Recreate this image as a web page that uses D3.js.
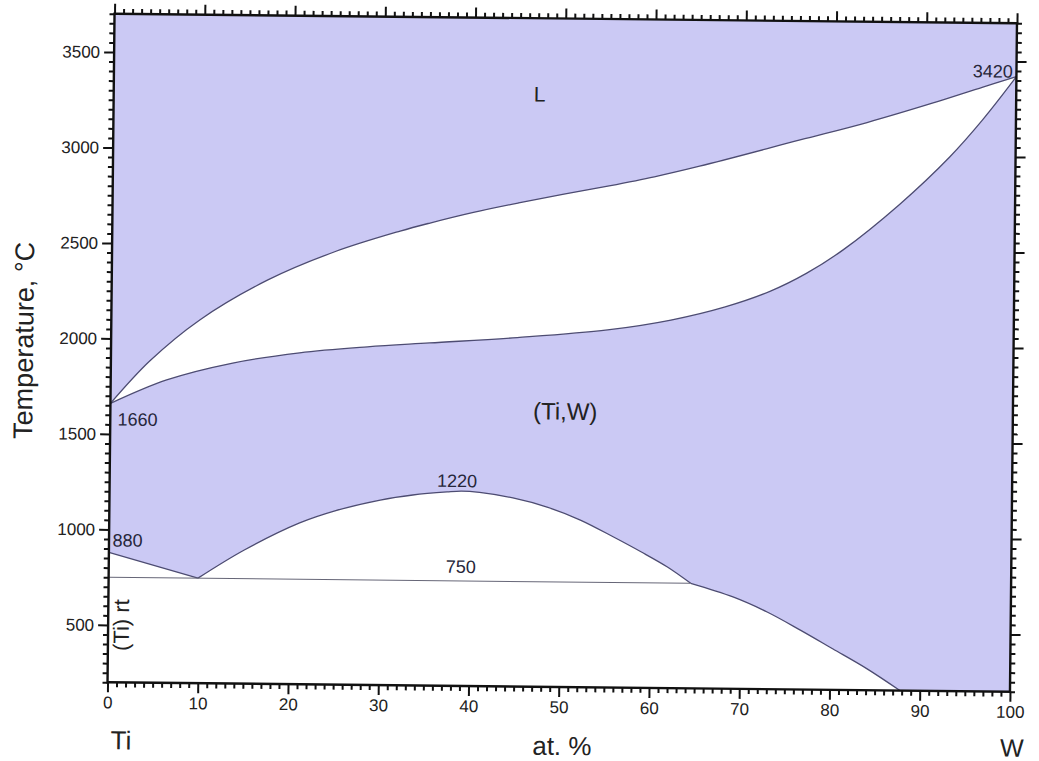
<!DOCTYPE html>
<html>
<head>
<meta charset="utf-8">
<script src="https://cdn.jsdelivr.net/npm/d3@7"></script>
<style>
  html, body { margin: 0; padding: 0; background: #fff; }
  svg { display: block; font-family: "Liberation Sans", Arial, sans-serif; }
</style>
</head>
<body>
<svg id="chart" width="1039" height="761"></svg>
<script>
// Ti–W phase diagram: composition in at.% W, temperature in °C

// Liquidus (upper boundary of L + (Ti,W))
const liquidusX = [0, 4.3, 9.8, 17.3, 24.6, 31.9, 35.2, 40, 45, 50, 55, 60, 65, 76.1, 83.5, 90.8, 96.3, 100];
const liquidusT = [1660, 1884, 2102, 2315, 2465, 2578, 2622, 2680, 2732, 2780, 2826, 2876, 2934, 3077, 3172, 3278, 3364, 3420];

// Solidus (lower boundary of L + (Ti,W))
const solidusX = [0, 6.2, 13.5, 20.9, 28.4, 35.3, 45, 55, 62, 68, 73, 77, 81, 87.2, 92.7, 96.3, 100];
const solidusT = [1660, 1786, 1878, 1935, 1970, 1994, 2027, 2072, 2127, 2199, 2284, 2380, 2504, 2745, 2996, 3192, 3420];

// (Ti,W) / (αTi) transus from pure Ti down to the eutectoid point
const transusX = [0, 9.9];
const transusT = [880, 750];

// Miscibility gap in (Ti,W)
const gapX = [9.9, 15, 21.1, 25, 30, 33.6, 37.4, 39, 41, 44.7, 48.5, 52.2, 55.9, 59, 61.9, 64.5];
const gapT = [750, 900, 1045, 1110, 1169, 1197, 1215, 1220, 1214, 1187, 1141, 1075, 988, 911, 834, 750];

// Solvus below the monotectoid
const solvusX = [64.5, 69.2, 73, 76.7, 80.3, 84.1, 87.8];
const solvusT = [750, 681, 604, 511, 415, 313, 200];

// Monotectoid horizontal
const monoX = [0, 64.5];
const monoT = [750, 750];

// Axis ticks
const xMajor = [0, 10, 20, 30, 40, 50, 60, 70, 80, 90, 100];
const yMajor = [500, 1000, 1500, 2000, 2500, 3000, 3500];

// Point annotations
const notes = [
  { text: "1660", x: 0.8, t: 1660, anchor: "start", dy: 22 },
  { text: "880",  x: 0.4, t: 880,  anchor: "start", dy: -6 },
  { text: "1220", x: 38.5, t: 1220, anchor: "middle", dy: -4 },
  { text: "750",  x: 39,  t: 750,  anchor: "middle", dy: -8 },
  { text: "3420", x: 99.6, t: 3420, anchor: "end", dy: 1 }
];

const m = { left: 111, right: 1013.5, top: 18.5, bottom: 687 };
const x = d3.scaleLinear().domain([0, 100]).range([m.left, m.right]);
const y = d3.scaleLinear().domain([200, 3700]).range([m.bottom, m.top]);

const FILL = "#cbc9f4";
const LINE = "#4d4c72";

const svg = d3.select("#chart");
const g = svg.append("g").attr("transform", "rotate(0.6,562,353)");

svg.append("defs").append("clipPath").attr("id", "plotClip")
  .append("rect")
  .attr("x", m.left).attr("y", m.top)
  .attr("width", m.right - m.left).attr("height", m.bottom - m.top);

const plot = g.append("g").attr("clip-path", "url(#plotClip)");

const pts = (xs, ts) => xs.map((v, i) => [x(v), y(ts[i])]);
const curve = d3.curveCatmullRom.alpha(0.5);
const smooth = d3.line().curve(curve);
const straight = d3.line();
const areaDown = d3.area().curve(curve)
  .x(d => d[0]).y1(d => d[1]).y0(m.bottom);

// single-phase background
plot.append("rect")
  .attr("x", m.left).attr("y", m.top)
  .attr("width", m.right - m.left).attr("height", m.bottom - m.top)
  .attr("fill", FILL);

// L + (Ti,W) two-phase field: white below liquidus, then fill back below solidus
plot.append("path").attr("d", areaDown(pts(liquidusX, liquidusT))).attr("fill", "#fff");
plot.append("path").attr("d", areaDown(pts(solidusX, solidusT))).attr("fill", FILL);

// low-temperature two-phase fields
const lowerEdge =
  straight(pts(transusX, transusT)) +
  smooth(pts(gapX, gapT)).replace(/^M/, "L") +
  smooth(pts(solvusX, solvusT)).replace(/^M/, "L") +
  `L${x(solvusX[solvusX.length - 1])},${m.bottom}L${x(0)},${m.bottom}Z`;
plot.append("path").attr("d", lowerEdge).attr("fill", "#fff");

// phase boundaries
const lines = [
  [liquidusX, liquidusT, smooth],
  [solidusX, solidusT, smooth],
  [transusX, transusT, straight],
  [gapX, gapT, smooth],
  [solvusX, solvusT, smooth]
];
lines.forEach(([xs, ts, gen]) => {
  plot.append("path").attr("d", gen(pts(xs, ts)))
    .attr("fill", "none").attr("stroke", LINE).attr("stroke-width", 1.3);
});
plot.append("path").attr("d", straight(pts(monoX, monoT)))
  .attr("fill", "none").attr("stroke", "#666677").attr("stroke-width", 1);

// axes
function styleAxis(sel) {
  sel.select(".domain").remove();
  sel.selectAll(".tick line").attr("stroke", "#111").attr("stroke-width", 2);
  sel.selectAll(".tick text").attr("fill", "#222").style("font-size", "17px")
    .style("font-family", '"Liberation Sans", Arial, sans-serif');
}
const xMinor = d3.range(0, 101, 1).filter(v => v % 10);
const yMinor = d3.range(200, 3701, 50).filter(v => v % 500);

g.append("g").attr("transform", `translate(0,${m.bottom})`)
  .call(d3.axisBottom(x).tickValues(xMajor).tickSize(10).tickPadding(4).tickFormat(d3.format("d"))).call(styleAxis);
g.append("g").attr("transform", `translate(0,${m.bottom})`)
  .call(d3.axisBottom(x).tickValues(xMinor).tickSize(5).tickFormat("")).call(styleAxis);
g.append("g").attr("transform", `translate(0,${m.top})`)
  .call(d3.axisTop(x).tickValues(xMajor).tickSize(10).tickFormat("")).call(styleAxis);
g.append("g").attr("transform", `translate(0,${m.top})`)
  .call(d3.axisTop(x).tickValues(xMinor).tickSize(5).tickFormat("")).call(styleAxis);
g.append("g").attr("transform", `translate(${m.left},0)`)
  .call(d3.axisLeft(y).tickValues(yMajor).tickSize(10).tickPadding(4).tickFormat(d3.format("d"))).call(styleAxis);
g.append("g").attr("transform", `translate(${m.left},0)`)
  .call(d3.axisLeft(y).tickValues(yMinor).tickSize(5).tickFormat("")).call(styleAxis);
g.append("g").attr("transform", `translate(${m.right},0)`)
  .call(d3.axisRight(y).tickValues(yMajor).tickSize(10).tickFormat("")).call(styleAxis);
g.append("g").attr("transform", `translate(${m.right},0)`)
  .call(d3.axisRight(y).tickValues(yMinor).tickSize(5).tickFormat("")).call(styleAxis);

g.append("rect")
  .attr("x", m.left).attr("y", m.top)
  .attr("width", m.right - m.left).attr("height", m.bottom - m.top)
  .attr("fill", "none").attr("stroke", "#111").attr("stroke-width", 2.4);

// annotations inside the diagram
notes.forEach(n => {
  g.append("text").attr("x", x(n.x)).attr("y", y(n.t) + n.dy)
    .attr("text-anchor", n.anchor).attr("fill", "#26263a")
    .style("font-size", "18px").text(n.text);
});

g.append("text").attr("x", x(47.2)).attr("y", y(3300) + 7)
  .attr("text-anchor", "middle").attr("fill", "#222").style("font-size", "21px").text("L");
g.append("text").attr("x", x(50.4)).attr("y", y(1600))
  .attr("text-anchor", "middle").attr("fill", "#222").style("font-size", "24px").text("(Ti,W)");
g.append("text").attr("transform", `translate(${x(2.3)},${y(500)}) rotate(-90)`)
  .attr("text-anchor", "middle").attr("fill", "#222").style("font-size", "22px").text("(Ti) rt");

// axis titles
g.append("text").attr("transform", "translate(33,346) rotate(-90)")
  .attr("text-anchor", "middle").attr("fill", "#222").style("font-size", "27px").text("Temperature, °C");
g.append("text").attr("x", 566).attr("y", 755)
  .attr("text-anchor", "middle").attr("fill", "#222").style("font-size", "26px").text("at. %");
g.append("text").attr("x", 125).attr("y", 754)
  .attr("text-anchor", "middle").attr("fill", "#222").style("font-size", "26px").text("Ti");
g.append("text").attr("x", 1016).attr("y", 752)
  .attr("text-anchor", "middle").attr("fill", "#222").style("font-size", "25px").text("W");
</script>
</body>
</html>
